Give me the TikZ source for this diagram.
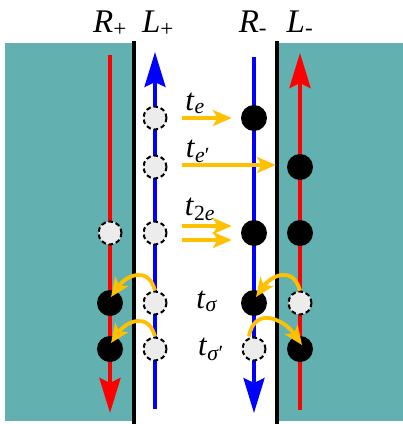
\documentclass[tikz,border=0pt]{standalone}
\usepackage{fontspec}
\setmainfont{Liberation Serif}
\usetikzlibrary{arrows.meta}
\definecolor{tealbg}{RGB}{98,176,176}
\definecolor{goldarr}{RGB}{255,192,0}
\definecolor{dotgray}{RGB}{236,236,236}
\newcommand\lsub[1]{\textsubscript{#1}}
\begin{document}
\begin{tikzpicture}[x=1pt,y=-1pt,
  filled/.style={circle,fill=black,minimum size=26pt,inner sep=0pt},
  hollow/.style={circle,fill=dotgray,draw=black,dash pattern=on 4.5pt off 3pt,line width=2pt,minimum size=23pt,inner sep=0pt},
  hop/.style={goldarr,line width=3.8pt,-{Stealth[length=19pt,width=16pt,inset=5pt]}},
  wall/.style={black,line width=4.5pt},
  chan/.style={line width=4pt},
  bigtip/.style={-{Stealth[length=35pt,width=21pt,inset=5pt]}},
  chlabel/.style={anchor=base,inner sep=0pt,font=\fontsize{33}{38}\selectfont},
  tlabel/.style={anchor=base,inner sep=0pt,font=\fontsize{31}{36}\selectfont}]
\useasboundingbox (0,0) rectangle (403,424);
% backgrounds
\fill[tealbg] (5,43) rectangle (133,421);
\fill[tealbg] (278,43) rectangle (403,421);
% walls
\coordinate (wlT) at (134,41); \coordinate (wlB) at (134,424);
\coordinate (wrT) at (277,41); \coordinate (wrB) at (277,424);
\draw[wall] (wlT) -- (wlB);
\draw[wall] (wrT) -- (wrB);
% channels
\coordinate (rpT) at (110,55);  \coordinate (rpB) at (110,413);
\coordinate (lpT) at (155,52);  \coordinate (lpB) at (155,409);
\coordinate (rmT) at (254,57);  \coordinate (rmB) at (254,413);
\coordinate (lmT) at (300,53);  \coordinate (lmB) at (300,410);
\draw[chan,red,bigtip] (rpT) -- (rpB);
\draw[chan,blue,line width=3.5pt,bigtip] (lpB) -- (lpT);
\draw[chan,blue,line width=3.5pt,bigtip] (rmT) -- (rmB);
\draw[chan,red,bigtip] (lmB) -- (lmT);
% labels
\node[chlabel] (lRp) at (110,32) {\textit{R}\lsub{+}};
\node[chlabel] (lLp) at (158,32) {\textit{L}\lsub{+}};
\node[chlabel] (lRm) at (253,32) {\textit{R}\lsub{-}};
\node[chlabel] (lLm) at (300,32) {\textit{L}\lsub{-}};
% dots
\node[hollow] (e1) at (155,118) {};
\node[filled] (f1) at (254,118) {};
\node[hollow] (e2) at (155,167) {};
\node[filled] (f2) at (300,167) {};
\node[hollow] (e3a) at (110,233) {};
\node[hollow] (e3b) at (155,233) {};
\node[filled] (f3a) at (254,233) {};
\node[filled] (f3b) at (300,233) {};
\node[filled] (f4a) at (110,303) {};
\node[hollow] (e4a) at (155,303) {};
\node[filled] (f4b) at (254,303) {};
\node[hollow] (e4b) at (300,303) {};
\node[filled] (f5a) at (110,349) {};
\node[hollow] (e5a) at (155,349) {};
\node[hollow] (e5b) at (254,349) {};
\node[filled] (f5b) at (300,349) {};
% straight hops
\draw[hop] ([xshift=14pt]e1.east) -- ([xshift=-9pt]f1.west);
\draw[hop] ([xshift=14pt,yshift=2pt]e2.east) -- ([xshift=-11pt,yshift=2pt]f2.west);
\draw[hop] ([xshift=14pt,yshift=7pt]e3b.east) -- ([xshift=-9pt,yshift=7pt]f3a.west);
\draw[hop] ([xshift=14pt,yshift=-7pt]e3b.east) -- ([xshift=-9pt,yshift=-7pt]f3a.west);
% curved hops
\draw[hop] (e4a.north) to[out=105,in=55,looseness=1.5] ([xshift=1pt,yshift=6pt]f4a.center);
\draw[hop] (e5a.north) to[out=105,in=55,looseness=1.5] ([xshift=1pt,yshift=6pt]f5a.center);
\draw[hop] (e4b.north) to[out=105,in=55,looseness=1.5] ([xshift=2pt,yshift=6pt]f4b.center);
\draw[hop] ([xshift=-5pt]e5b.north) to[out=80,in=125,looseness=1.5] ([xshift=2pt,yshift=4pt]f5b.center);
% hop labels
\node[tlabel] (te) at (195,110) {\textit{t}\lsub{\textit{e}}};
\node[tlabel] (tep) at (198,157) {\textit{t}\lsub{\textit{e}′}};
\node[tlabel] (t2e) at (200,215) {\textit{t}\lsub{2\textit{e}}};
\node[tlabel] (ts) at (207,308) {\textit{t}\lsub{\textit{σ}}};
\node[tlabel] (tsp) at (211,355) {\textit{t}\lsub{\textit{σ}′}};
\end{tikzpicture}
\end{document}
